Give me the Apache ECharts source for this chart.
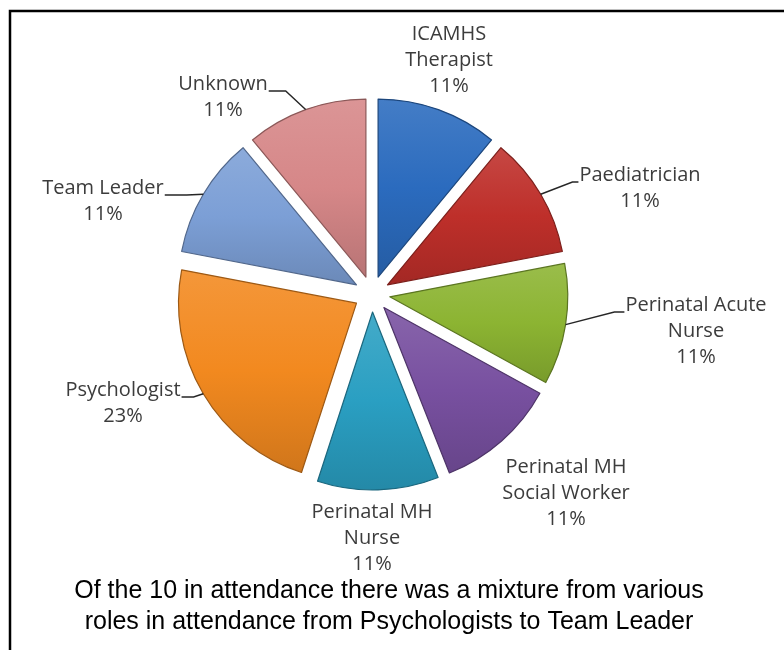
<!DOCTYPE html>
<html>
<head>
<meta charset="utf-8">
<script src="https://cdn.jsdelivr.net/npm/echarts@6/dist/echarts.min.js"></script>
<style>
  html, body { margin: 0; padding: 0; background: #fff; }
  #chart { width: 784px; height: 650px; }
</style>
</head>
<body>
<div id="chart"></div>
<script>
// Roles present at the session and their share of attendees (%)
const roles = [
  'ICAMHS\nTherapist',
  'Paediatrician',
  'Perinatal Acute\nNurse',
  'Perinatal MH\nSocial Worker',
  'Perinatal MH\nNurse',
  'Psychologist',
  'Team Leader',
  'Unknown'
];
const shares = [11, 11, 11, 11, 11, 23, 11, 11];
const caption = [
  'Of the 10 in attendance there was a mixture from various',
  'roles in attendance from Psychologists to Team Leader'
];

// Styling / layout (kept apart from the values)
const sliceColors = ['#2B6BBE', '#BE2F2A', '#8CB432', '#7850A0', '#2A9FC2', '#F2891F', '#7C9FD6', '#D68788'];
const labelSpots = [[449, 21], [640, 162], [696, 292], [566, 454], [372, 499], [123, 377], [103, 175], [223, 71]]; // block centre x, top y
const leaderRun = [0, 6, 10, 0, 0, 12, 22, 17]; // horizontal tail of each leader line (0 = no leader)

const LABEL_FONT = '"Open Sans", "Liberation Sans", sans-serif';
const LABEL_SIZE = 20;
const LINE_H = 26;
const PIE_CENTER = [372, 294];
const PIE_R = 178;
const EXPLODE = 18;

const ctx = document.createElement('canvas').getContext('2d');
ctx.font = LABEL_SIZE + 'px ' + LABEL_FONT;
function textWidth(s) { return ctx.measureText(s).width; }

function tint(hex, f) {
  const n = parseInt(hex.slice(1), 16);
  let r = n >> 16, g = (n >> 8) & 255, b = n & 255;
  const t = f > 0 ? 255 : 0, a = Math.abs(f);
  r = Math.round(r + (t - r) * a);
  g = Math.round(g + (t - g) * a);
  b = Math.round(b + (t - b) * a);
  return 'rgb(' + r + ',' + g + ',' + b + ')';
}

// Exploded, bevel-shaded slices
const sliceData = roles.map(function (name, i) {
  const c = sliceColors[i];
  return {
    name: name,
    value: shares[i],
    selected: true,
    itemStyle: {
      color: new echarts.graphic.LinearGradient(0, 0, 0, 1, [
        { offset: 0, color: tint(c, 0.12) },
        { offset: 0.5, color: c },
        { offset: 1, color: tint(c, -0.14) }
      ]),
      borderColor: tint(c, -0.35),
      borderWidth: 1.2
    }
  };
});

// Invisible companion ring whose rim sits on the exploded slices' outer edge; it carries the labels
const labelData = roles.map(function (name, i) {
  return {
    name: name,
    value: shares[i],
    labelLine: { show: leaderRun[i] > 0 }
  };
});

const chart = echarts.init(document.getElementById('chart'), null, { renderer: 'canvas' });

chart.setOption({
  animation: false,
  backgroundColor: '#ffffff',
  graphic: [
    {
      type: 'rect',
      shape: { x: 10, y: 11, width: 820, height: 720 },
      style: { fill: 'none', stroke: '#000', lineWidth: 2.5 },
      silent: true
    },
    {
      type: 'text',
      x: 389, y: 591,
      style: {
        text: caption[0], align: 'center', verticalAlign: 'middle',
        font: '25px "Liberation Sans", Arial, sans-serif', fill: '#000'
      },
      silent: true
    },
    {
      type: 'text',
      x: 389, y: 622,
      style: {
        text: caption[1], align: 'center', verticalAlign: 'middle',
        font: '25px "Liberation Sans", Arial, sans-serif', fill: '#000'
      },
      silent: true
    }
  ],
  series: [
    {
      type: 'pie',
      center: PIE_CENTER,
      radius: PIE_R,
      startAngle: 90,
      clockwise: true,
      selectedMode: 'multiple',
      selectedOffset: EXPLODE,
      emphasis: { disabled: true },
      label: { show: false },
      labelLine: { show: false },
      data: sliceData
    },
    {
      type: 'pie',
      center: PIE_CENTER,
      radius: PIE_R + EXPLODE,
      startAngle: 90,
      clockwise: true,
      silent: true,
      z: 3,
      selectedMode: false,
      avoidLabelOverlap: false,
      emphasis: { disabled: true },
      itemStyle: { color: 'rgba(0,0,0,0)', borderWidth: 0 },
      label: {
        show: true,
        position: 'outside',
        formatter: '{b}\n{c}%',
        fontFamily: LABEL_FONT,
        fontSize: LABEL_SIZE,
        lineHeight: LINE_H,
        color: '#3c3c3c',
        align: 'center'
      },
      labelLine: {
        show: true,
        lineStyle: { color: '#262626', width: 1.4 }
      },
      labelLayout: function (p) {
        const i = p.dataIndex;
        const s = labelSpots[i];
        const out = { x: s[0], y: s[1], align: 'center', verticalAlign: 'top' };
        if (leaderRun[i] && p.labelLinePoints) {
          const w = textWidth(roles[i].split('\n')[0]);
          const by = s[1] + LINE_H / 2 + 7;
          const leftSide = s[0] < PIE_CENTER[0];
          const tx = leftSide ? s[0] + w / 2 + 1 : s[0] - w / 2 - 1;
          const kx = leftSide ? tx + leaderRun[i] : tx - leaderRun[i];
          out.labelLinePoints = [p.labelLinePoints[0], [kx, by], [tx, by]];
        }
        return out;
      },
      data: labelData
    }
  ]
});
</script>
</body>
</html>
